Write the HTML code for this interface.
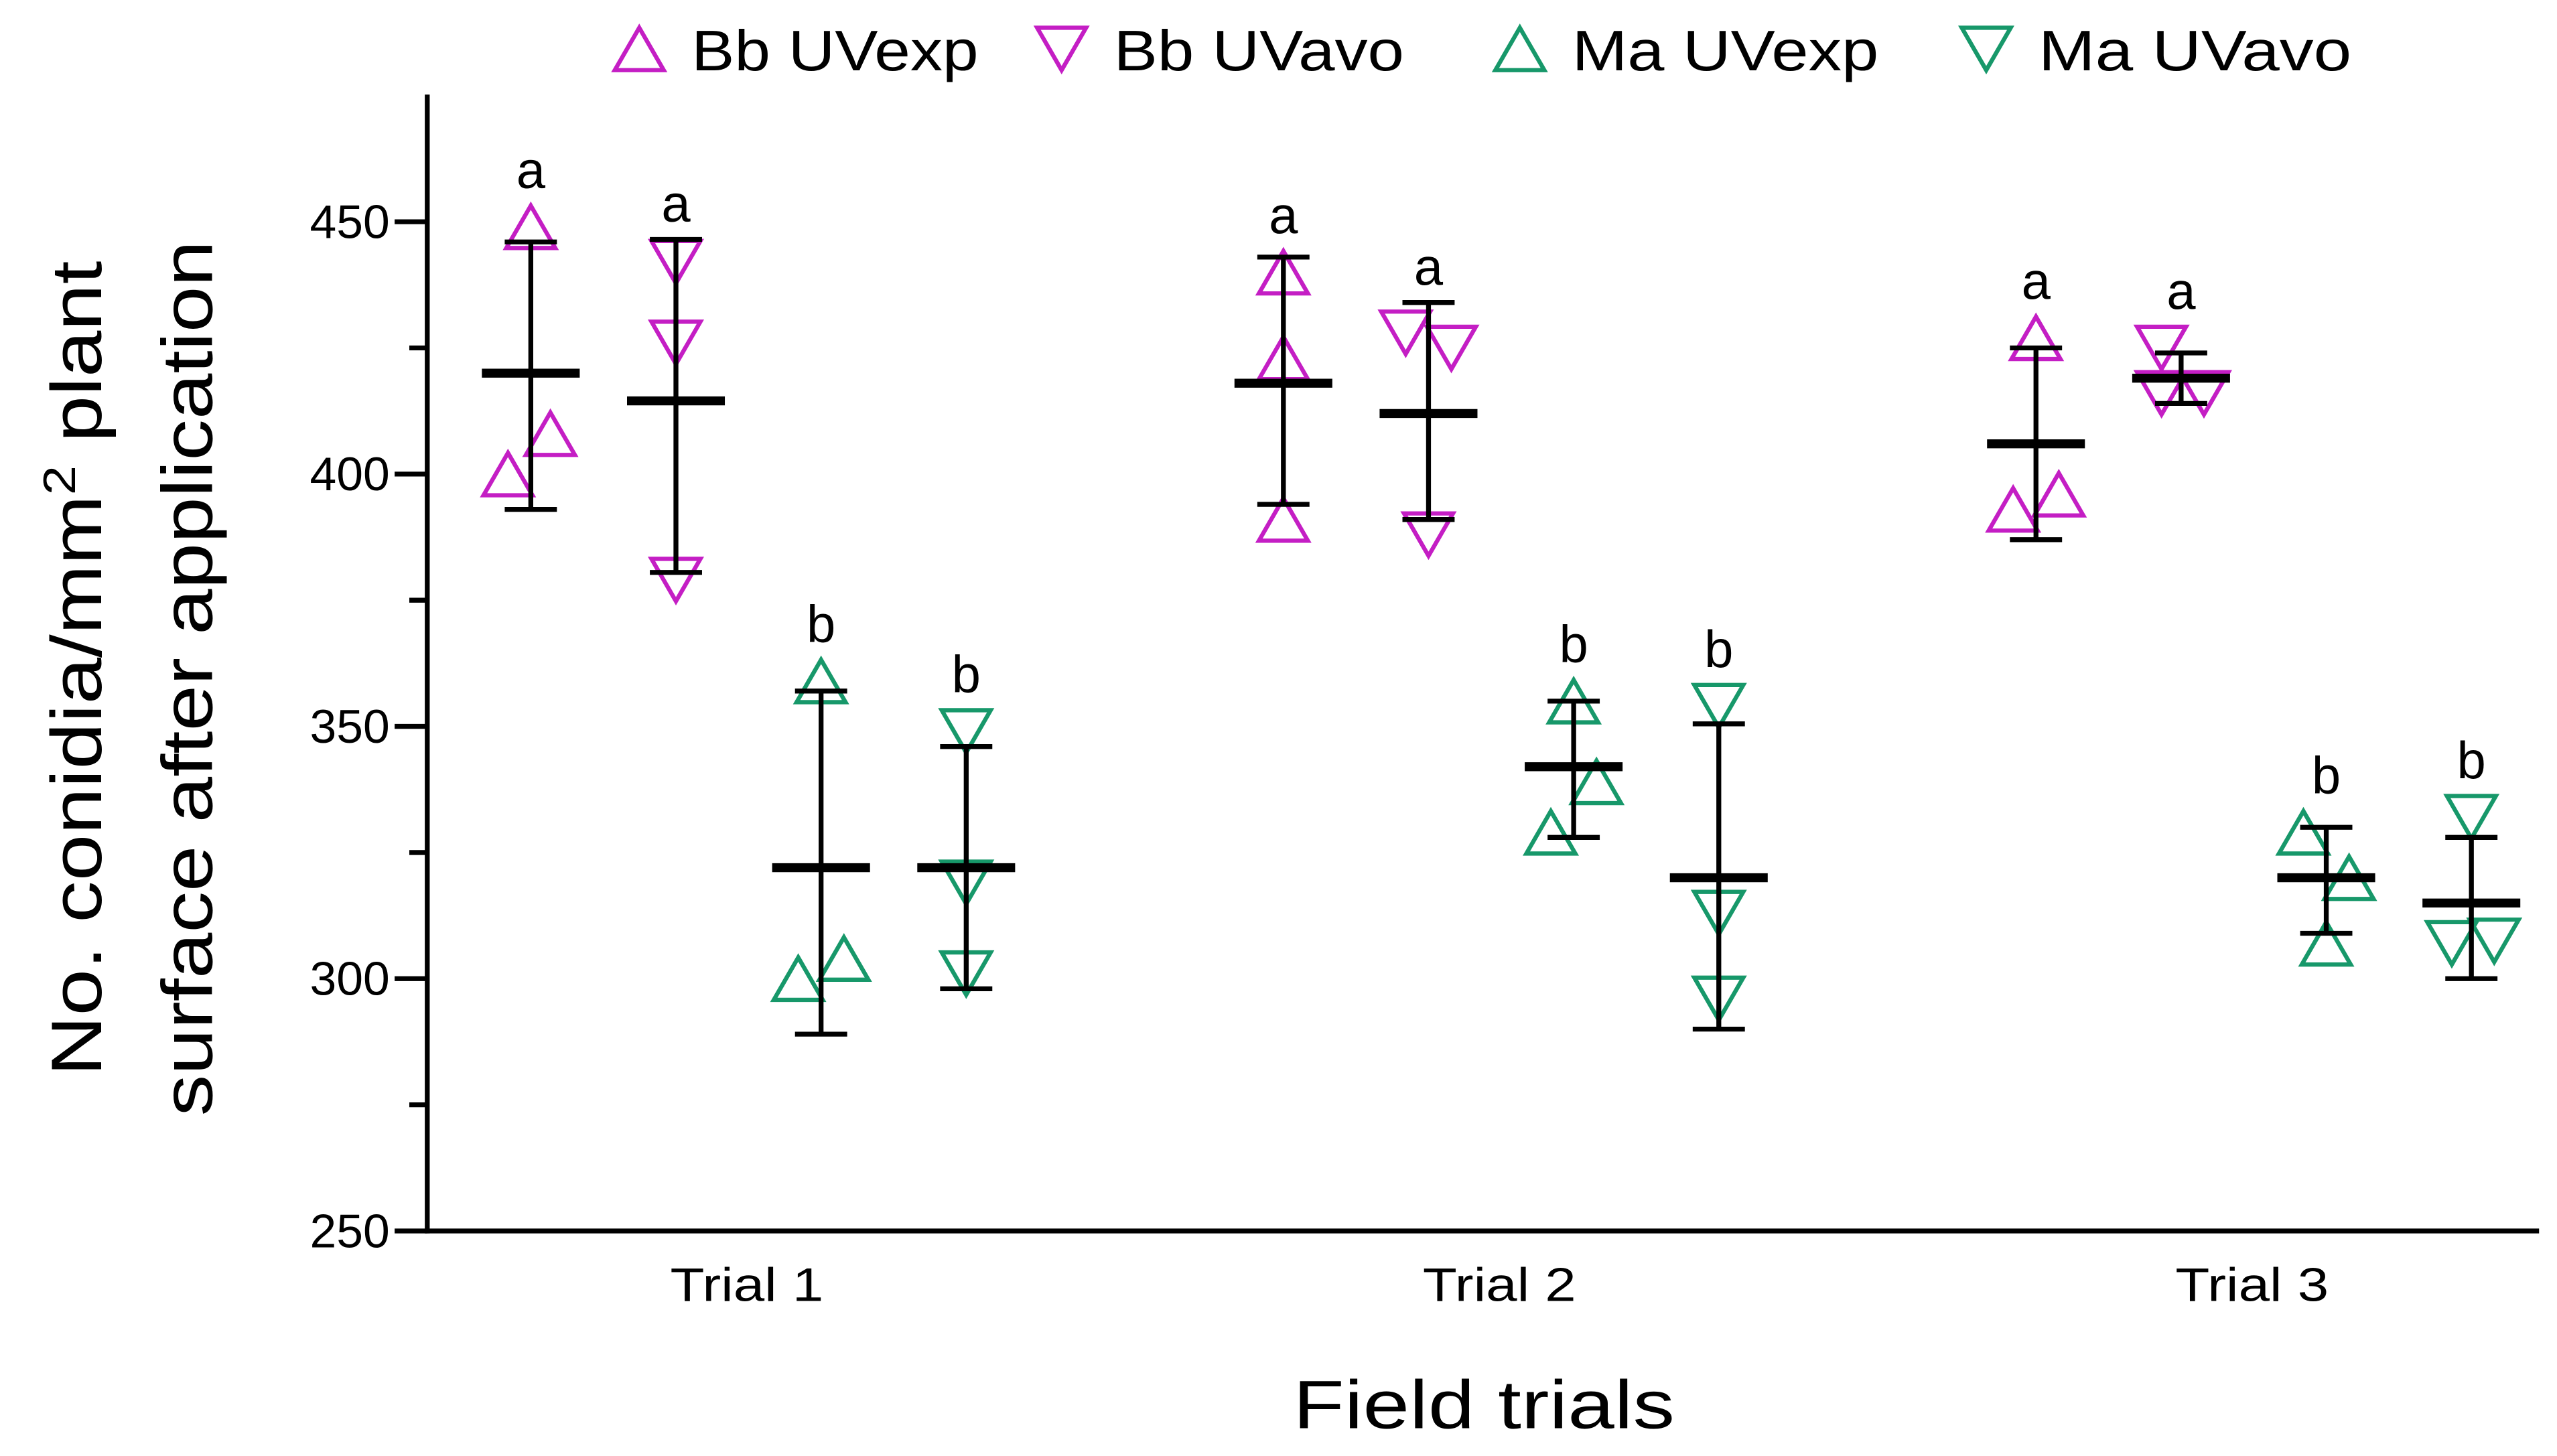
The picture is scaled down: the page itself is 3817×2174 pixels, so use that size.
<!DOCTYPE html>
<html><head><meta charset="utf-8"><style>
html,body{margin:0;padding:0;background:#fff;}
svg{display:block;}
</style></head><body>
<svg id="chart" width="3817" height="2174" viewBox="0 0 1568 893" xmlns="http://www.w3.org/2000/svg" font-family="'Liberation Sans', sans-serif"></svg>
<script>
const trials = ["Trial 1", "Trial 2", "Trial 3"];
const groups = ["Bb UVexp", "Bb UVavo", "Ma UVexp", "Ma UVavo"];
const groupColors = ["#c41ec4", "#c41ec4", "#17986a", "#17986a"];
const groupDown = [false, true, false, true];
const yTicks = [250, 300, 350, 400, 450];
const yMinor = [275, 325, 375, 425];
// points per trial, per group (3 replicates)
const points = [
  [[449, 400, 408], [442, 426, 379], [359, 300, 304], [349, 319, 301]],
  [[440, 423, 391], [428, 425, 388], [355, 329, 339], [354, 313, 296]],
  [[427, 393, 396], [425, 416, 416], [329, 320, 307], [332, 307, 307.5]]
];
const jitter = [
  [[0, -14, 12], [0, 0, 0], [0, -14, 14], [0, 0, 0]],
  [[0, 0, 0], [-14, 14, 0], [0, -14, 14], [0, 0, 0]],
  [[0, -14, 14], [-12, -12, 14], [-14, 14, 0], [0, -12, 14]]
];
const means = [[420, 414.5, 322, 322], [418, 412, 342, 320], [406, 419, 320, 315]];
const errHi = [[446, 446.5, 357, 346], [443, 434, 355, 350.5], [425, 424, 330, 328]];
const errLo = [[393, 380.5, 289, 298], [394, 391, 328, 290], [387, 414, 309, 300]];
const letters = [["a", "a", "b", "b"], ["a", "a", "b", "b"], ["a", "a", "b", "b"]];

const NS = "http://www.w3.org/2000/svg";
const svg = document.getElementById("chart");
const X0 = 262, X1 = 1557, YB = 755, YT = 58;
function yS(v) { return 755 - (v - 250) * (755 - 136) / 200; }
function trialX(i) { return 459 + i * 461.5; }
function groupX(i, g) { return trialX(i) + (g - 1.5) * 89; }
function mk(tag, attrs, parent) {
  const e = document.createElementNS(NS, tag);
  for (const k in attrs) e.setAttribute(k, attrs[k]);
  (parent || svg).appendChild(e);
  return e;
}
function tri(cx, cy, down, color, parent) {
  const w = 15, h = 13;
  const pts = down ? `${cx - w},${cy - h} ${cx + w},${cy - h} ${cx},${cy + h}` : `${cx - w},${cy + h} ${cx + w},${cy + h} ${cx},${cy - h}`;
  return mk("polygon", { points: pts, fill: "none", stroke: color, "stroke-width": 2.6 }, parent);
}

// axes
let e = mk("line", { x1: X0, y1: YT, x2: X0, y2: YB + 1.5, stroke: "#000", "stroke-width": 3 });
 
e = mk("line", { x1: X0 - 1.5, y1: YB, x2: X1, y2: YB, stroke: "#000", "stroke-width": 3 });
 
yTicks.forEach(v => {
  const t = mk("line", { x1: X0 - 20, y1: yS(v), x2: X0, y2: yS(v), stroke: "#000", "stroke-width": 3 });
   
  const l = mk("text", { x: 239, y: yS(v) + 10, "text-anchor": "end", "font-size": 29, textLength: 49, lengthAdjust: "spacingAndGlyphs" });
  l.textContent = v;
   
});
yMinor.forEach(v => {
  const t = mk("line", { x1: X0 - 11, y1: yS(v), x2: X0, y2: yS(v), stroke: "#000", "stroke-width": 3 });
   
});
trials.forEach((tn, i) => {
  const l = mk("text", { x: trialX(i) - 1, y: 798, "text-anchor": "middle", "font-size": 29, textLength: 94, lengthAdjust: "spacingAndGlyphs" });
  l.textContent = tn;
   
});
e = mk("text", { x: 910, y: 876, "text-anchor": "middle", "font-size": 42, textLength: 234, lengthAdjust: "spacingAndGlyphs" });
e.textContent = "Field trials";
 
const yt = mk("text", { transform: "translate(62,410) rotate(-90)", "text-anchor": "middle", "font-size": 44, textLength: 500, lengthAdjust: "spacingAndGlyphs" });
 
yt.innerHTML = 'No. conidia/mm<tspan dy="-16" font-size="28">2</tspan><tspan dy="16"> plant</tspan>';
const yt2 = mk("text", { transform: "translate(130,416) rotate(-90)", "text-anchor": "middle", "font-size": 44, textLength: 537, lengthAdjust: "spacingAndGlyphs" });
yt2.textContent = "surface after application";
 

// data
trials.forEach((tn, i) => {
  groups.forEach((gn, g) => {
    const gEl = mk("g", {});
    
    
    const cx = groupX(i, g);
    const col = groupColors[g];
    points[i][g].forEach((v, k) => {
      const m = tri(cx + jitter[i][g][k], yS(v), groupDown[g], col, gEl);
      
      
    });
    const eb = mk("path", { d: `M${cx},${yS(errHi[i][g])}V${yS(errLo[i][g])}M${cx - 16},${yS(errHi[i][g])}H${cx + 16}M${cx - 16},${yS(errLo[i][g])}H${cx + 16}`, stroke: "#000", "stroke-width": 3, fill: "none" }, gEl);
     
    const mb = mk("line", { x1: cx - 30, x2: cx + 30, y1: yS(means[i][g]), y2: yS(means[i][g]), stroke: "#000", "stroke-width": 5.5 }, gEl);
     
    const topPt = Math.max(...points[i][g]);
    const topPx = Math.min(yS(topPt) - 13, yS(errHi[i][g]));
    const lt = mk("text", { x: cx, y: topPx - 11, "text-anchor": "middle", "font-size": 32 }, gEl);
    lt.textContent = letters[i][g];
     
  });
});

// legend
const legX = [392, 651, 932, 1218];
const legW = [176, 178, 188, 192];
groups.forEach((gn, g) => {
  const le = mk("g", {});
  
  
  tri(legX[g], 30, groupDown[g], groupColors[g], le);
  const t = mk("text", { x: legX[g] + 32, y: 43, "font-size": 35, textLength: legW[g], lengthAdjust: "spacingAndGlyphs" }, le);
  t.textContent = gn;
});
</script>
</body></html>
